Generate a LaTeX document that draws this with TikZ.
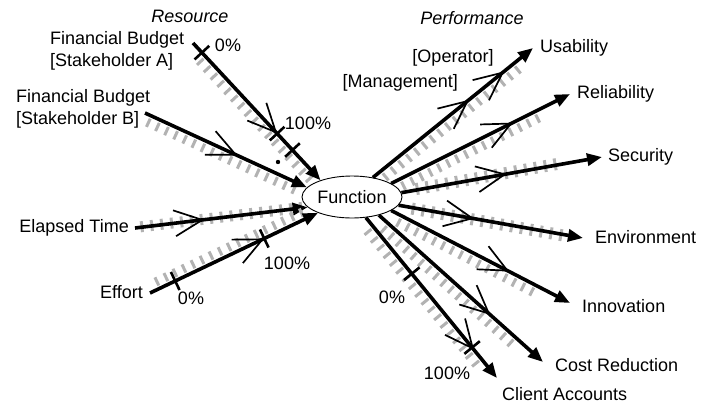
\documentclass[tikz,border=0pt]{standalone}
\usepackage{fontspec}
\setmainfont{Liberation Sans}
\usetikzlibrary{arrows.meta,decorations.markings,calc,shapes.geometric}
\tikzset{
  lbl/.style={inner sep=0pt, font=\fontsize{18}{22}\selectfont},
  ilbl/.style={inner sep=0pt, font=\fontsize{18}{22}\selectfont\itshape},
  arr/.style={line width=3.6pt, -{Triangle[length=15pt,width=12pt]}},
  fuzz/.style n args={4}{preaction={decorate,decoration={markings,
     mark=between positions #1 and #2 step 10pt with {\draw[-, gray!60, line width=3pt] (0pt,#3) -- (0pt,#4);}}}},
  chev/.style={postaction={decorate,decoration={markings,
     mark=at position #1 with {\draw[-, black, line width=1.7pt, line join=miter] (-28pt,13pt) -- (0pt,0pt) -- (-28pt,-13pt);}}}},
  tickm/.style={postaction={decorate,decoration={markings,
     mark=at position #1 with {\draw[-, black, line width=2.6pt] (0pt,-10pt) -- (0pt,10pt);}}}}
}
\begin{document}
\begin{tikzpicture}[x=1pt,y=-1pt]
\useasboundingbox (0,0) rectangle (701,407);

\node[draw, ellipse, minimum width=100pt, minimum height=42pt, inner sep=0pt,
      line width=0.9pt, fill=white, font=\fontsize{18}{22}\selectfont] (fn) at (352,197) {Function};

% free ends
\coordinate (sA) at (193,43);
\coordinate (sB) at (145,113);
\coordinate (sE) at (135,228);
\coordinate (sF) at (150,293);
\coordinate (eU) at (533,48);
\coordinate (eR) at (570,94);
\coordinate (eS) at (602,157);
\coordinate (eEn) at (583,238);
\coordinate (eI) at (570,303);
\coordinate (eC) at (543,362);
\coordinate (eCA) at (497,378);
\coordinate (dotA) at (278,162);

% resource arrows
\draw[arr, fuzz={0.1}{0.97}{-3pt}{-12pt}, chev=0.65, tickm=0.07, tickm=0.66, tickm=0.78] (sA) -- (fn.152);
\draw[arr, fuzz={0.04}{0.97}{-3pt}{-12pt}, chev=0.56] (sB) -- (fn.168);
\draw[arr, fuzz={0.04}{0.97}{-5pt}{6pt}, chev=0.39] (sE) -- (fn.193);
\draw[arr, fuzz={0.06}{0.92}{3pt}{12pt}, chev=0.67, tickm=0.15, tickm=0.68] (sF) -- (fn.205);
\fill (dotA) circle (2.2pt);

% performance arrows
\draw[arr, fuzz={0.05}{0.88}{-3pt}{-12pt}, chev=0.59, chev=0.81] (fn.43) -- (eU);
\draw[arr, fuzz={0.05}{0.85}{-3pt}{-12pt}, chev=0.67] (fn.19) -- (eR);
\draw[arr, fuzz={0.08}{0.8}{-5pt}{7pt}, chev=0.515] (fn.5) -- (eS);
\draw[arr, fuzz={0.08}{0.9}{5pt}{-7pt}, chev=0.40] (fn.350) -- (eEn);
\draw[arr, fuzz={0.06}{0.83}{-3pt}{-12pt}, chev=0.65] (fn.341) -- (eI);
\draw[arr, fuzz={0.06}{0.85}{-3pt}{-12pt}, chev=0.67] (fn.326) -- (eC);
\draw[arr, fuzz={0.06}{0.9}{-3pt}{-12pt}, chev=0.815, tickm=0.35, tickm=0.81] (fn.304) -- (eCA);

% labels
\node[ilbl] (res) at (190,16) {Resource};
\node[ilbl] (perf) at (472,18) {Performance};
\node[lbl, anchor=west, align=left] (fbA) at (50,51) {Financial Budget\\{}[Stakeholder A]};
\node[lbl, anchor=west, align=left] (fbB) at (16,108.5) {Financial Budget\\{}[Stakeholder B]};
\node[lbl] (pA0) at (228,45) {0\%};
\node[lbl] (pA1) at (308,123) {100\%};
\node[lbl, anchor=east] (et) at (129,228) {Elapsed Time};
\node[lbl, anchor=east] (ef) at (143,292) {Effort};
\node[lbl] (pF0) at (191,298) {0\%};
\node[lbl] (pF1) at (287,263) {100\%};
\node[lbl] (op) at (453,58) {[Operator]};
\node[lbl, anchor=east] (mg) at (458,83) {[Management]};
\node[lbl, anchor=west] (lU) at (540,48) {Usability};
\node[lbl, anchor=west] (lR) at (577,94) {Reliability};
\node[lbl, anchor=west] (lS) at (608,157) {Security};
\node[lbl, anchor=west] (lEn) at (595,237) {Environment};
\node[lbl, anchor=west] (lI) at (582,306) {Innovation};
\node[lbl, anchor=west] (lC) at (555,365) {Cost Reduction};
\node[lbl, anchor=west] (lCA) at (502,394) {Client Accounts};
\node[lbl] (pC0) at (392,297) {0\%};
\node[lbl] (pC1) at (447,373) {100\%};
\end{tikzpicture}
\end{document}
